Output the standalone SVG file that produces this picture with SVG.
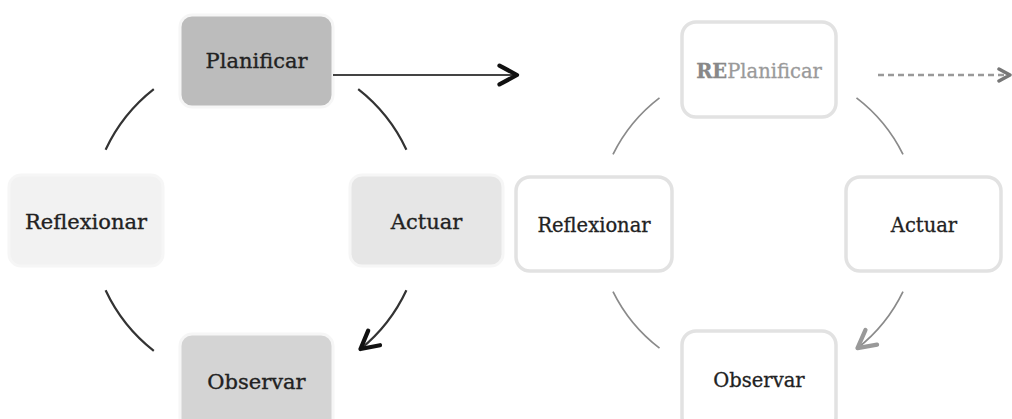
<svg xmlns="http://www.w3.org/2000/svg" width="1012" height="419" viewBox="0 0 1012 419">
  <defs>
    <!-- open chevron arrowheads -->
    <marker id="chevDark" viewBox="0 0 20 20" refX="17" refY="10" markerWidth="25" markerHeight="25" markerUnits="userSpaceOnUse" orient="auto">
      <path d="M3,2.5 L17,10 L3,17.5" fill="none" stroke="#111" stroke-width="3.4" stroke-linecap="round" stroke-linejoin="round"/>
    </marker>
    <marker id="chevGray" viewBox="0 0 20 20" refX="17" refY="10" markerWidth="25" markerHeight="25" markerUnits="userSpaceOnUse" orient="auto">
      <path d="M3,2.5 L17,10 L3,17.5" fill="none" stroke="#999" stroke-width="3.4" stroke-linecap="round" stroke-linejoin="round"/>
    </marker>
    <marker id="chevDash" viewBox="0 0 20 20" refX="17" refY="10" markerWidth="17" markerHeight="17" markerUnits="userSpaceOnUse" orient="auto">
      <path d="M4,3 L17,10 L4,17" fill="none" stroke="#777" stroke-width="4" stroke-linecap="round" stroke-linejoin="round"/>
    </marker>
  </defs>
  <style>
    .lbl { font-family: "DejaVu Serif", "Liberation Serif", serif; font-size: 21px; fill: #222; stroke: #222; stroke-width: 0.35; text-anchor: middle; dominant-baseline: central; }
    .lbl2 { font-family: "DejaVu Serif", "Liberation Serif", serif; font-size: 19.5px; fill: #222; stroke: #222; stroke-width: 0.3; text-anchor: middle; dominant-baseline: central; }
    .solid { stroke: #f6f6f6; stroke-width: 3; }
    .outline { fill: #ffffff; stroke: #e2e2e2; stroke-width: 3.5; }
    .arcA { fill: none; stroke: #333; stroke-width: 2.2; }
    .arcB { fill: none; stroke: #8a8a8a; stroke-width: 1.7; }
  </style>
  <rect width="1012" height="419" fill="#ffffff"/>

  <!-- first cycle -->
  <g id="planificar">
    <rect class="solid" x="180" y="15" width="153" height="92" rx="12" fill="#bcbcbc"/>
    <text class="lbl" x="256.5" y="61">Planificar</text>
  </g>
  <g id="reflexionar">
    <rect class="solid" x="9" y="175" width="154" height="91" rx="12" fill="#f2f2f2"/>
    <text class="lbl" x="86" y="222">Reflexionar</text>
  </g>
  <g id="actuar">
    <rect class="solid" x="350" y="175" width="153" height="91" rx="12" fill="#e6e6e6"/>
    <text class="lbl" x="426.5" y="222">Actuar</text>
  </g>
  <g id="observar">
    <rect class="solid" x="180" y="334" width="153" height="100" rx="12" fill="#d4d4d4"/>
    <text class="lbl" x="256.5" y="382">Observar</text>
  </g>

  <!-- second cycle -->
  <g id="replanificar">
    <rect class="outline" x="682" y="22" width="154" height="95" rx="14"/>
    <text class="lbl2" x="759" y="71"><tspan font-weight="bold" fill="#888" stroke="#888">RE</tspan><tspan fill="#9a9a9a" stroke="#9a9a9a">Planificar</tspan></text>
  </g>
  <g id="reflexionar2">
    <rect class="outline" x="516" y="177" width="156" height="94" rx="14"/>
    <text class="lbl2" x="594" y="225">Reflexionar</text>
  </g>
  <g id="actuar2">
    <rect class="outline" x="846" y="177" width="155" height="94" rx="14"/>
    <text class="lbl2" x="924" y="225">Actuar</text>
  </g>
  <g id="observar2">
    <rect class="outline" x="682" y="331" width="154" height="100" rx="14"/>
    <text class="lbl2" x="759" y="380">Observar</text>
  </g>

  <!-- connectors -->
  <g id="connectors">
    <path class="arcA" d="M153.8,89.2 A166,166 0 0 0 105.6,149.8"/>
    <path class="arcA" d="M358.2,89.2 A166,166 0 0 1 406.4,149.8"/>
    <path class="arcA" d="M406.4,290.2 A166,166 0 0 1 360.5,349" marker-end="url(#chevDark)"/>
    <path class="arcA" d="M153.8,350.8 A166,166 0 0 1 105.6,290.2"/>

    <path d="M333,75 L517,75" fill="none" stroke="#444" stroke-width="2" marker-end="url(#chevDark)"/>

    <path class="arcB" d="M659.5,97.9 A160,160 0 0 0 613,154.4"/>
    <path class="arcB" d="M856.5,97.9 A160,160 0 0 1 903,154.4"/>
    <path class="arcB" d="M903,291.6 A160,160 0 0 1 857.5,348.1" marker-end="url(#chevGray)"/>
    <path class="arcB" d="M659.5,348.1 A160,160 0 0 1 613,291.6"/>

    <path d="M878,75 L1010,75" fill="none" stroke="#999" stroke-width="2.4" stroke-dasharray="6,4" marker-end="url(#chevDash)"/>
  </g>
</svg>
